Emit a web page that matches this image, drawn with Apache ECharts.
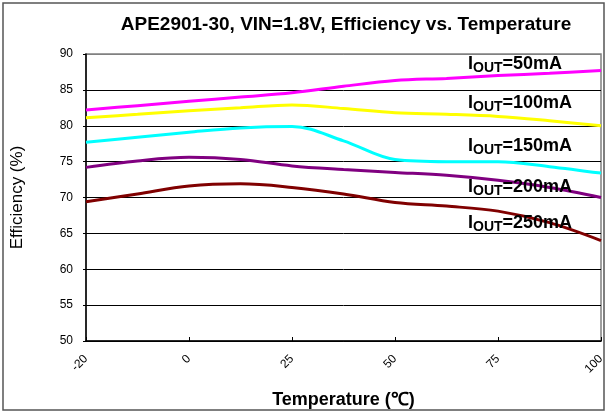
<!DOCTYPE html>
<html>
<head>
<meta charset="utf-8">
<script src="https://cdn.jsdelivr.net/npm/echarts@6/dist/echarts.min.js"></script>
<style>html,body{margin:0;padding:0;background:#fff;}#c{width:608px;height:414px;}</style>
</head>
<body>
<div id="c"></div>
<script>
// Category positions (labels shown every other category)
const temps = ['-20', '-10', '0', '12.5', '25', '37.5', '50', '62.5', '75', '87.5', '100'];
const yTicks = [50, 55, 60, 65, 70, 75, 80, 85, 90];

const eff50  = [82.2, 82.8, 83.4, 84.0, 84.6, 85.5, 86.3, 86.6, 87.0, 87.3, 87.7];
const eff100 = [81.1, 81.6, 82.1, 82.5, 82.9, 82.4, 81.8, 81.6, 81.3, 80.7, 80.0];
const eff150 = [77.7, 78.4, 79.1, 79.7, 79.9, 77.9, 75.3, 75.0, 75.0, 74.3, 73.4];
const eff200 = [74.2, 75.1, 75.6, 75.3, 74.4, 73.9, 73.5, 73.1, 72.4, 71.4, 70.0];
const eff250 = [69.4, 70.5, 71.6, 71.9, 71.4, 70.5, 69.3, 68.8, 68.1, 66.5, 64.0];

const seriesNames = ['50mA', '100mA', '150mA', '200mA', '250mA'];
const seriesData = [eff50, eff100, eff150, eff200, eff250];
const colors = ['#FF00FF', '#FFFF00', '#00FFFF', '#800080', '#800000'];

const FONT = '"Liberation Sans", Arial, sans-serif';
const chart = echarts.init(document.getElementById('c'), null, {renderer: 'canvas'});

const labelTops = [67, 106, 149, 190, 226];
const rich = {
  a: {fontSize: 18, fontWeight: 'bold', fontFamily: FONT, color: '#000'},
  b: {fontSize: 14, fontWeight: 'bold', fontFamily: FONT, color: '#000', padding: [8, 0, 0, 0]}
};

chart.setOption({
  animation: false,
  backgroundColor: '#fff',
  title: {
    text: 'APE2901-30, VIN=1.8V, Efficiency vs. Temperature',
    left: 341, top: 10, textAlign: 'center',
    textStyle: {fontFamily: FONT, fontSize: 19, fontWeight: 'bold', color: '#000'}
  },
  grid: {left: 86, right: 7, top: 54, bottom: 67, show: true, borderColor: '#808080', borderWidth: 1.5},
  xAxis: {
    type: 'category', data: temps, boundaryGap: false,
    name: 'Temperature (℃)', nameLocation: 'middle', nameGap: 50,
    nameTextStyle: {fontFamily: FONT, fontSize: 18, fontWeight: 'bold', color: '#000'},
    axisLine: {lineStyle: {color: '#000', width: 1.5}},
    axisTick: {inside: true, length: 4, interval: 1, lineStyle: {color: '#000'}},
    axisLabel: {interval: 1, rotate: 45, margin: 16, fontFamily: FONT, fontSize: 12, color: '#000'},
    splitLine: {show: false}
  },
  yAxis: {
    type: 'value', min: yTicks[0], max: yTicks[yTicks.length - 1], interval: 5,
    name: 'Efficiency (%)', nameLocation: 'middle', nameGap: 60,
    nameTextStyle: {fontFamily: FONT, fontSize: 17, color: '#000'},
    axisLine: {show: true, lineStyle: {color: '#000', width: 1.5}},
    axisTick: {show: true, length: 3, lineStyle: {color: '#000'}},
    axisLabel: {margin: 13, fontFamily: FONT, fontSize: 12, color: '#000'},
    splitLine: {show: true, lineStyle: {color: ['#000', '#000', '#000', '#000', '#000', '#000', '#000', '#000', '#808080'], width: 1}}
  },
  series: seriesData.map((d, i) => ({
    name: seriesNames[i], type: 'line', data: d, smooth: 0.35,
    showSymbol: false, lineStyle: {color: colors[i], width: 3}, itemStyle: {color: colors[i]}, z: 2
  })),
  graphic: [
    {type: 'rect', shape: {x: 3, y: 3, width: 601, height: 407}, style: {fill: null, stroke: '#555', lineWidth: 1.5}, silent: true, z: 10}
  ].concat(seriesNames.map((n, i) => ({
    type: 'text', left: 468, top: labelTops[i] - 12, z: 20,
    style: {text: '{a|I}{b|OUT}{a|=' + n + '}', rich: rich}
  })))
});
</script>
</body>
</html>
